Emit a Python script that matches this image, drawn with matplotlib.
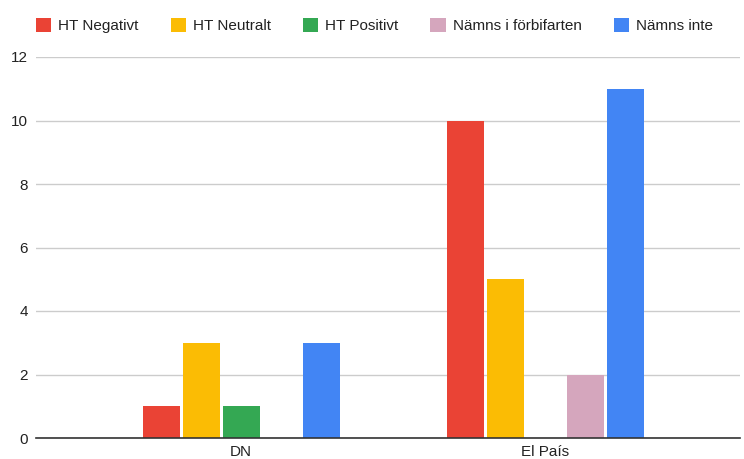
import matplotlib.pyplot as plt
import numpy as np

# Data
categories = ['DN', 'El País']
series_names = ['HT Negativt', 'HT Neutralt', 'HT Positivt', 'Nämns i förbifarten', 'Nämns inte']
ht_negativt = [1, 10]
ht_neutralt = [3, 5]
ht_positivt = [1, 0]
namns_forbi = [0, 2]
namns_inte = [3, 11]
y_ticks = [0, 2, 4, 6, 8, 10, 12]

colors = ['#EA4335', '#FBBC04', '#34A853', '#D5A6BD', '#4285F4']
values = [ht_negativt, ht_neutralt, ht_positivt, namns_forbi, namns_inte]

plt.rcParams['font.family'] = ['Liberation Sans', 'DejaVu Sans']

fig = plt.figure(figsize=(7.44, 4.59), dpi=100)
ax = fig.add_axes([36 / 744, 21 / 459, 704 / 744, 381 / 459])

x = np.arange(len(categories))
step = 40 / 304
width = 37 / 304
for i, (name, vals, col) in enumerate(zip(series_names, values, colors)):
    offs = (i - 2) * step
    ax.bar(x + offs, vals, width=width, color=col, label=name, zorder=3)

ax.set_xlim((36 - 241) / 304, (740 - 241) / 304)
ax.set_ylim(0, 12)
ax.set_yticks(y_ticks)
ax.set_xticks(x)
ax.set_xticklabels(categories)
ax.grid(axis='y', color='#cccccc', linewidth=1, zorder=0)
for s in ['top', 'right', 'left']:
    ax.spines[s].set_visible(False)
ax.spines['bottom'].set_color('#333333')
ax.spines['bottom'].set_linewidth(1.2)
ax.spines['bottom'].set_zorder(4)
ax.tick_params(axis='both', length=0, labelsize=11, colors='#222222')
ax.tick_params(axis='y', pad=6)
ax.tick_params(axis='x', pad=5)

fig.legend(loc='upper left', bbox_to_anchor=(0.030, 0.99), ncol=5, frameon=False,
           fontsize=11, handlelength=1.0, handleheight=1.0, handletextpad=0.45,
           columnspacing=2.1, labelcolor='#222222')

fig.savefig('out.png', dpi=100)
